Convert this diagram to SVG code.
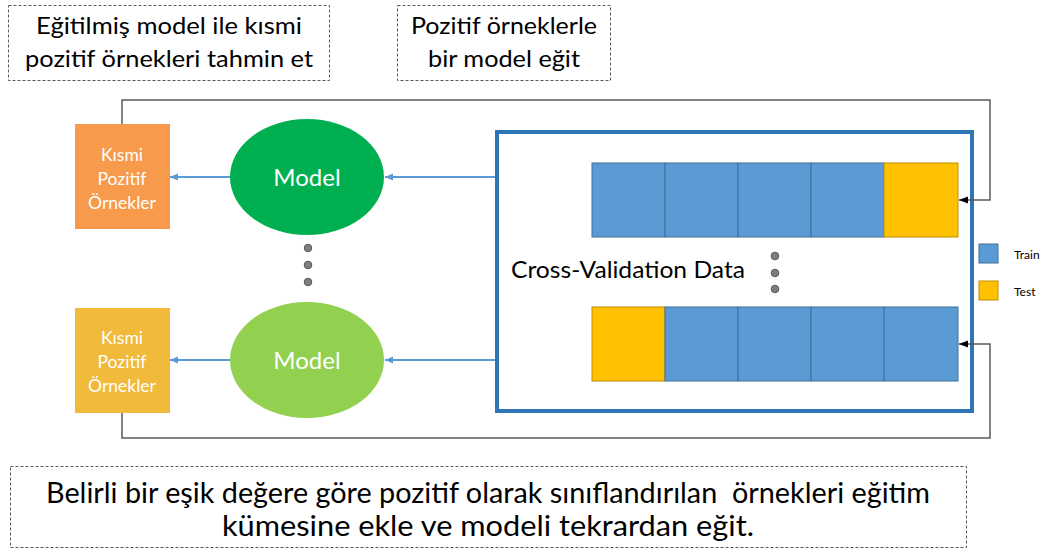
<svg xmlns="http://www.w3.org/2000/svg" width="1045" height="551" viewBox="0 0 1045 551">
  <style>
    .note { fill: #ffffff; stroke: #595959; stroke-width: 1; stroke-dasharray: 3 2; }
    .txt { font-family: Lato, "Open Sans", "Liberation Sans", sans-serif; fill: #000000; }
    .wtxt { font-family: Lato, "Open Sans", "Liberation Sans", sans-serif; fill: #ffffff; text-anchor: middle; }
    .train { fill: #5B9BD5; stroke: #41719C; stroke-width: 1; }
    .test { fill: #FFC000; stroke: #BF9000; stroke-width: 1; }
    .dot { fill: #7F7F7F; stroke: #404040; stroke-width: 0.8; }
    .flow { fill: none; stroke: #5B9BD5; stroke-width: 2; }
    .loop { fill: none; stroke: #595959; stroke-width: 1.5; }
  </style>
  <defs>
    <marker id="blueHead" markerWidth="8" markerHeight="8" refX="8" refY="4" orient="auto" markerUnits="userSpaceOnUse">
      <path d="M0,0.5 L8,4 L0,7.5 Z" fill="#5B9BD5"/>
    </marker>
    <marker id="blackHead" markerWidth="9" markerHeight="8" refX="9" refY="4" orient="auto" markerUnits="userSpaceOnUse">
      <path d="M0,0.5 L9,4 L0,7.5 Z" fill="#000000"/>
    </marker>
  </defs>

  <!-- explanatory notes -->
  <g id="note-predict">
    <rect class="note" x="8.5" y="5.5" width="321" height="75"/>
    <text class="txt" x="169" y="34" font-size="24" text-anchor="middle" textLength="266" lengthAdjust="spacingAndGlyphs">Eğitilmiş model ile kısmi</text>
    <text class="txt" x="169" y="67" font-size="24" text-anchor="middle" textLength="288" lengthAdjust="spacingAndGlyphs">pozitif örnekleri tahmin et</text>
  </g>
  <g id="note-train">
    <rect class="note" x="397.5" y="5.5" width="213" height="75"/>
    <text class="txt" x="504" y="34" font-size="24" text-anchor="middle" textLength="186" lengthAdjust="spacingAndGlyphs">Pozitif örneklerle</text>
    <text class="txt" x="504" y="67" font-size="24" text-anchor="middle" textLength="152" lengthAdjust="spacingAndGlyphs">bir model eğit</text>
  </g>
  <g id="note-retrain">
    <rect class="note" x="10.5" y="466.5" width="956" height="81"/>
    <text class="txt" x="488" y="503" font-size="28" text-anchor="middle" textLength="884" lengthAdjust="spacingAndGlyphs" style="white-space: pre">Belirli bir eşik değere göre pozitif olarak sınıflandırılan  örnekleri eğitim</text>
    <text class="txt" x="488" y="536" font-size="28" text-anchor="middle" textLength="532" lengthAdjust="spacingAndGlyphs">kümesine ekle ve modeli tekrardan eğit.</text>
  </g>

  <!-- predicted positives -->
  <g id="partial-positives-1">
    <rect x="75" y="124" width="95" height="105" fill="#F79A4C"/>
    <text class="wtxt" x="122" y="161" font-size="17.5">Kısmi</text>
    <text class="wtxt" x="122" y="185" font-size="17.5">Pozitif</text>
    <text class="wtxt" x="122" y="209" font-size="17.5">Örnekler</text>
  </g>
  <g id="partial-positives-n">
    <rect x="75" y="308" width="95" height="105" fill="#F1BA3A"/>
    <text class="wtxt" x="122" y="344" font-size="17.5">Kısmi</text>
    <text class="wtxt" x="122" y="368" font-size="17.5">Pozitif</text>
    <text class="wtxt" x="122" y="392" font-size="17.5">Örnekler</text>
  </g>

  <!-- models -->
  <g id="model-1">
    <ellipse cx="307" cy="177" rx="77" ry="58" fill="#00B050"/>
    <text class="wtxt" x="307" y="186" font-size="24">Model</text>
  </g>
  <g id="model-n">
    <ellipse cx="307" cy="360" rx="77" ry="58" fill="#92D050"/>
    <text class="wtxt" x="307" y="369" font-size="24">Model</text>
  </g>
  <g id="model-ellipsis">
    <circle class="dot" cx="308" cy="248" r="3.8"/>
    <circle class="dot" cx="308" cy="265" r="3.8"/>
    <circle class="dot" cx="308" cy="282" r="3.8"/>
  </g>

  <!-- cross-validation folds -->
  <g id="cross-validation">
    <rect x="497" y="132" width="475" height="279" fill="#ffffff" stroke="#2E75B6" stroke-width="4"/>
    <text class="txt" x="511" y="278" font-size="23" textLength="234" lengthAdjust="spacingAndGlyphs">Cross-Validation Data</text>
    <g id="fold-1">
      <rect class="train" x="592" y="163" width="73" height="74"/>
      <rect class="train" x="665" y="163" width="73" height="74"/>
      <rect class="train" x="738" y="163" width="73" height="74"/>
      <rect class="train" x="811" y="163" width="73" height="74"/>
      <rect class="test" x="884" y="163" width="74" height="74"/>
    </g>
    <g id="fold-k">
      <rect class="test" x="592" y="307" width="73" height="74"/>
      <rect class="train" x="665" y="307" width="73" height="74"/>
      <rect class="train" x="738" y="307" width="73" height="74"/>
      <rect class="train" x="811" y="307" width="73" height="74"/>
      <rect class="train" x="884" y="307" width="74" height="74"/>
    </g>
    <circle class="dot" cx="775" cy="256" r="3.8"/>
    <circle class="dot" cx="775" cy="273" r="3.8"/>
    <circle class="dot" cx="775" cy="289" r="3.8"/>
  </g>

  <!-- legend -->
  <g id="legend">
    <rect class="train" x="979" y="244" width="19" height="19"/>
    <text class="txt" x="1014" y="259" font-size="12">Train</text>
    <rect class="test" x="979" y="281" width="19" height="19"/>
    <text class="txt" x="1014" y="296" font-size="12">Test</text>
  </g>

  <!-- connectors -->
  <g id="connectors">
    <line class="flow" x1="495" y1="177" x2="385" y2="177" marker-end="url(#blueHead)"/>
    <line class="flow" x1="230" y1="177" x2="170" y2="177" marker-end="url(#blueHead)"/>
    <line class="flow" x1="495" y1="360" x2="385" y2="360" marker-end="url(#blueHead)"/>
    <line class="flow" x1="230" y1="360" x2="170" y2="360" marker-end="url(#blueHead)"/>
    <polyline class="loop" points="122,124 122,100 990,100 990,200 959,200" marker-end="url(#blackHead)"/>
    <polyline class="loop" points="122,413 122,438 990,438 990,344 959,344" marker-end="url(#blackHead)"/>
  </g>
</svg>
